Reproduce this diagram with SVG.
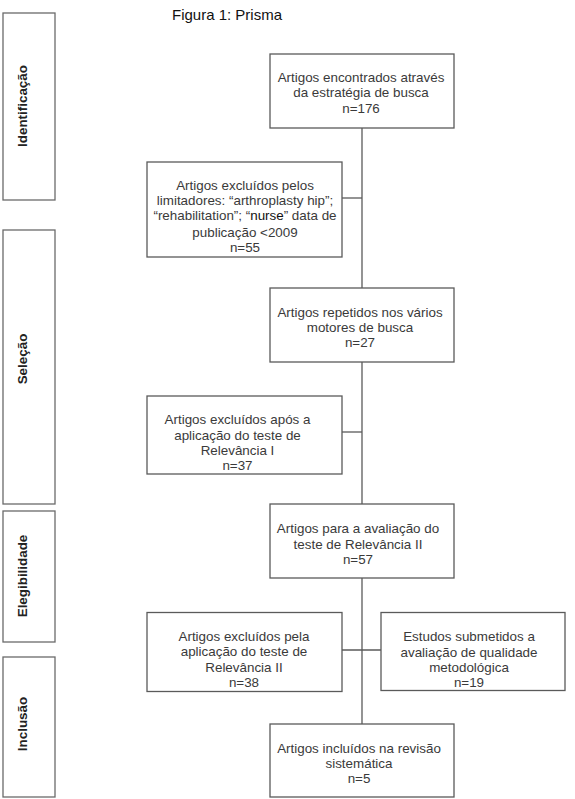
<svg xmlns="http://www.w3.org/2000/svg" width="575" height="799" viewBox="0 0 575 799">
  <style>
    .box { fill: #ffffff; stroke: #5a5a5a; stroke-width: 1.3; }
    .phase { fill: #ffffff; stroke: #6a6a6a; stroke-width: 1.3; }
    .link { fill: none; stroke: #5a5a5a; stroke-width: 1.3; }
    .t { font-family: "Liberation Sans", Arial, sans-serif; font-size: 13.4px; fill: #3a3a3a; text-anchor: middle; }
    .ph { font-family: "Liberation Sans", Arial, sans-serif; font-size: 13.4px; font-weight: bold; fill: #222222; text-anchor: middle; }
    .title { font-family: "Liberation Sans", Arial, sans-serif; font-size: 15px; fill: #111111; }
  </style>
  <rect width="575" height="799" fill="#ffffff"/>

  <text class="title" x="172" y="20">Figura 1: Prisma</text>

  <!-- phase labels on the left -->
  <g id="phase-identificacao">
    <rect class="phase" x="3" y="13" width="52" height="187"/>
    <text class="ph" transform="translate(26.5,106) rotate(-90)">Identificação</text>
  </g>
  <g id="phase-selecao">
    <rect class="phase" x="3" y="230" width="52" height="274"/>
    <text class="ph" transform="translate(26.5,359) rotate(-90)">Seleção</text>
  </g>
  <g id="phase-elegibilidade">
    <rect class="phase" x="3" y="511" width="52" height="131"/>
    <text class="ph" transform="translate(26.5,576) rotate(-90)">Elegibilidade</text>
  </g>
  <g id="phase-inclusao">
    <rect class="phase" x="3" y="657" width="52" height="140"/>
    <text class="ph" transform="translate(26.5,724) rotate(-90)">Inclusão</text>
  </g>

  <!-- connectors -->
  <g id="connectors">
    <line class="link" x1="362" y1="128" x2="362" y2="288"/>
    <line class="link" x1="342" y1="198" x2="362" y2="198"/>
    <line class="link" x1="362" y1="362" x2="362" y2="504"/>
    <line class="link" x1="342" y1="432" x2="362" y2="432"/>
    <line class="link" x1="362" y1="578" x2="362" y2="724"/>
    <line class="link" x1="342" y1="650" x2="381" y2="650"/>
  </g>

  <g id="n1">
    <rect class="box" x="270" y="54" width="184" height="74"/>
    <text class="t" x="361" y="82">Artigos encontrados através</text>
    <text class="t" x="361" y="97">da estratégia de busca</text>
    <text class="t" x="361" y="113">n=176</text>
  </g>

  <g id="n2">
    <rect class="box" x="147" y="162" width="195" height="95"/>
    <text class="t" x="245" y="190">Artigos excluídos pelos</text>
    <text class="t" x="245" y="205">limitadores: “arthroplasty hip”;</text>
    <text class="t" x="245" y="220">“rehabilitation”; “<tspan fill="#111111">nurse</tspan>” data de</text>
    <text class="t" x="245" y="236.5">publicação &lt;2009</text>
    <text class="t" x="245" y="251.5">n=55</text>
  </g>

  <g id="n3">
    <rect class="box" x="270" y="288" width="184" height="74"/>
    <text class="t" x="360" y="316.5">Artigos repetidos nos vários</text>
    <text class="t" x="360" y="332">motores de busca</text>
    <text class="t" x="360" y="347">n=27</text>
  </g>

  <g id="n4">
    <rect class="box" x="147" y="396" width="195" height="78"/>
    <text class="t" x="237.5" y="424">Artigos excluídos após a</text>
    <text class="t" x="237.5" y="439.5">aplicação do teste de</text>
    <text class="t" x="237.5" y="455">Relevância I</text>
    <text class="t" x="237.5" y="469.5">n=37</text>
  </g>

  <g id="n5">
    <rect class="box" x="270" y="504" width="184" height="74"/>
    <text class="t" x="358" y="533">Artigos para a avaliação do</text>
    <text class="t" x="358" y="548.5">teste de Relevância II</text>
    <text class="t" x="358" y="564">n=57</text>
  </g>

  <g id="n6">
    <rect class="box" x="147" y="612.5" width="195" height="79"/>
    <text class="t" x="244" y="640.5">Artigos excluídos pela</text>
    <text class="t" x="244" y="656">aplicação do teste de</text>
    <text class="t" x="244" y="671.5">Relevância II</text>
    <text class="t" x="244" y="687">n=38</text>
  </g>

  <g id="n7">
    <rect class="box" x="381" y="612.5" width="184" height="78"/>
    <text class="t" x="469" y="640.5">Estudos submetidos a</text>
    <text class="t" x="469" y="656.5">avaliação de qualidade</text>
    <text class="t" x="469" y="671.5">metodológica</text>
    <text class="t" x="469" y="687">n=19</text>
  </g>

  <g id="n8">
    <rect class="box" x="270" y="724" width="184" height="73"/>
    <text class="t" x="359" y="752.5">Artigos incluídos na revisão</text>
    <text class="t" x="359" y="768">sistemática</text>
    <text class="t" x="359" y="783">n=5</text>
  </g>
</svg>
